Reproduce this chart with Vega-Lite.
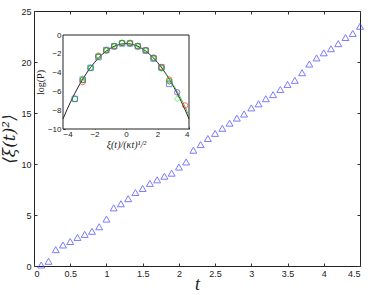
{
  "$schema": "https://vega.github.io/schema/vega-lite/v6.json",
  "width": 326,
  "height": 255,
  "autosize": {"type": "none"},
  "padding": {"left": 34, "top": 11, "right": 22, "bottom": 29},
  "background": "white",
  "config": {
    "view": {"stroke": "#222", "strokeWidth": 1},
    "axis": {
      "grid": false,
      "domain": false,
      "labelFont": "Liberation Sans",
      "labelFontSize": 9,
      "labelColor": "#222",
      "tickColor": "#333",
      "tickSize": -3,
      "labelPadding": 6,
      "titleColor": "#222"
    }
  },
  "datasets": {
    "main": [
      {"t": 0.1, "v": 0.1}, {"t": 0.2, "v": 0.46}, {"t": 0.3, "v": 1.6}, {"t": 0.4, "v": 2.06},
      {"t": 0.5, "v": 2.4}, {"t": 0.6, "v": 2.8}, {"t": 0.7, "v": 3.1}, {"t": 0.8, "v": 3.4},
      {"t": 0.9, "v": 3.85}, {"t": 1.0, "v": 4.6}, {"t": 1.1, "v": 5.7}, {"t": 1.2, "v": 6.1},
      {"t": 1.3, "v": 6.6}, {"t": 1.4, "v": 7.2}, {"t": 1.5, "v": 7.6}, {"t": 1.6, "v": 8.1},
      {"t": 1.7, "v": 8.45}, {"t": 1.8, "v": 8.8}, {"t": 1.9, "v": 9.1}, {"t": 2.0, "v": 9.7},
      {"t": 2.1, "v": 10.2}, {"t": 2.2, "v": 11.35}, {"t": 2.3, "v": 11.9}, {"t": 2.4, "v": 12.5},
      {"t": 2.5, "v": 13.0}, {"t": 2.6, "v": 13.5}, {"t": 2.7, "v": 14.0}, {"t": 2.8, "v": 14.5},
      {"t": 2.9, "v": 14.9}, {"t": 3.0, "v": 15.5}, {"t": 3.1, "v": 15.9}, {"t": 3.2, "v": 16.4},
      {"t": 3.3, "v": 16.8}, {"t": 3.4, "v": 17.3}, {"t": 3.5, "v": 17.8}, {"t": 3.6, "v": 18.2},
      {"t": 3.7, "v": 18.95}, {"t": 3.8, "v": 19.8}, {"t": 3.9, "v": 20.4}, {"t": 4.0, "v": 20.9},
      {"t": 4.1, "v": 21.3}, {"t": 4.2, "v": 21.8}, {"t": 4.3, "v": 22.4}, {"t": 4.4, "v": 22.8},
      {"t": 4.5, "v": 23.5}
    ],
    "box": [{"x0": -4, "x1": 4, "y0": -10, "y1": 0}],
    "curves": [
      {"c": "black", "x": -4, "y": -8.92}, {"c": "black", "x": -3.75, "y": -7.95}, {"c": "black", "x": -3.5, "y": -7.05},
      {"c": "black", "x": -3.25, "y": -6.2}, {"c": "black", "x": -3, "y": -5.42}, {"c": "black", "x": -2.75, "y": -4.7},
      {"c": "black", "x": -2.5, "y": -4.05}, {"c": "black", "x": -2.25, "y": -3.45}, {"c": "black", "x": -2, "y": -2.92},
      {"c": "black", "x": -1.75, "y": -2.45}, {"c": "black", "x": -1.5, "y": -2.05}, {"c": "black", "x": -1.25, "y": -1.7},
      {"c": "black", "x": -1, "y": -1.42}, {"c": "black", "x": -0.75, "y": -1.2}, {"c": "black", "x": -0.5, "y": -1.05},
      {"c": "black", "x": -0.25, "y": -0.95}, {"c": "black", "x": 0, "y": -0.92}, {"c": "black", "x": 0.25, "y": -0.95},
      {"c": "black", "x": 0.5, "y": -1.05}, {"c": "black", "x": 0.75, "y": -1.2}, {"c": "black", "x": 1, "y": -1.42},
      {"c": "black", "x": 1.25, "y": -1.7}, {"c": "black", "x": 1.5, "y": -2.05}, {"c": "black", "x": 1.75, "y": -2.45},
      {"c": "black", "x": 2, "y": -2.92}, {"c": "black", "x": 2.25, "y": -3.45}, {"c": "black", "x": 2.5, "y": -4.05},
      {"c": "black", "x": 2.75, "y": -4.7}, {"c": "black", "x": 3, "y": -5.42}, {"c": "black", "x": 3.25, "y": -6.2},
      {"c": "black", "x": 3.5, "y": -7.05}, {"c": "black", "x": 3.75, "y": -7.95}, {"c": "black", "x": 4, "y": -8.92},
      {"c": "green", "x": 2.5, "y": -4.0}, {"c": "green", "x": 2.75, "y": -4.62}, {"c": "green", "x": 3, "y": -5.3},
      {"c": "green", "x": 3.25, "y": -6.0}, {"c": "green", "x": 3.5, "y": -6.8}, {"c": "green", "x": 3.75, "y": -7.65},
      {"c": "green", "x": 4, "y": -8.6}
    ],
    "pts": [
      {"s": "b", "x": -3.25, "y": -6.8}, {"s": "b", "x": -2.75, "y": -4.75}, {"s": "b", "x": -2.25, "y": -3.5},
      {"s": "b", "x": -1.75, "y": -2.35}, {"s": "b", "x": -1.25, "y": -1.6}, {"s": "b", "x": -0.75, "y": -1.2},
      {"s": "b", "x": -0.25, "y": -0.9}, {"s": "b", "x": 0.25, "y": -0.9}, {"s": "b", "x": 0.75, "y": -1.2},
      {"s": "b", "x": 1.25, "y": -1.65}, {"s": "b", "x": 1.75, "y": -2.5}, {"s": "b", "x": 2.25, "y": -3.45},
      {"s": "b", "x": 2.75, "y": -5.2},
      {"s": "r", "x": -2.75, "y": -5.0}, {"s": "r", "x": -1.75, "y": -2.2}, {"s": "r", "x": -1.25, "y": -1.6},
      {"s": "r", "x": -0.75, "y": -1.2}, {"s": "r", "x": -0.25, "y": -0.85}, {"s": "r", "x": 0.25, "y": -0.85},
      {"s": "r", "x": 0.75, "y": -1.2}, {"s": "r", "x": 1.25, "y": -1.6}, {"s": "r", "x": 1.75, "y": -2.4},
      {"s": "r", "x": 2.25, "y": -3.4}, {"s": "r", "x": 2.75, "y": -4.75}, {"s": "r", "x": 3.75, "y": -7.5},
      {"s": "l", "x": -2.75, "y": -4.6}, {"s": "l", "x": -2.25, "y": -3.5}, {"s": "l", "x": -1.75, "y": -2.2},
      {"s": "l", "x": -1.25, "y": -1.6}, {"s": "l", "x": -0.75, "y": -1.1}, {"s": "l", "x": -0.25, "y": -0.8},
      {"s": "l", "x": 0.25, "y": -0.8}, {"s": "l", "x": 0.75, "y": -1.1}, {"s": "l", "x": 1.25, "y": -1.6},
      {"s": "l", "x": 1.75, "y": -2.5}, {"s": "l", "x": 2.25, "y": -3.6}, {"s": "l", "x": 2.75, "y": -5.0},
      {"s": "l", "x": 3.25, "y": -6.8},
      {"s": "g", "x": -3.25, "y": -6.8}, {"s": "g", "x": -2.75, "y": -4.8}, {"s": "g", "x": -2.25, "y": -3.5},
      {"s": "g", "x": -1.75, "y": -2.3}, {"s": "g", "x": -1.25, "y": -1.65}, {"s": "g", "x": -0.75, "y": -1.2},
      {"s": "g", "x": -0.25, "y": -0.85}, {"s": "g", "x": 0.25, "y": -0.9}, {"s": "g", "x": 0.75, "y": -1.2},
      {"s": "g", "x": 1.25, "y": -1.65}, {"s": "g", "x": 1.75, "y": -2.45}, {"s": "g", "x": 2.25, "y": -3.5},
      {"s": "g", "x": 2.75, "y": -4.9},
      {"s": "p", "x": 3.25, "y": -6.1}
    ]
  },
  "layer": [
    {
      "data": {"name": "main"},
      "layer": [
        {
          "mark": {"type": "point", "shape": "triangle-up", "filled": false, "color": "#4444ff", "size": 48, "strokeWidth": 1},
          "encoding": {
            "x": {"field": "t", "type": "quantitative",
              "scale": {"domain": [0, 4.5], "nice": false, "zero": false},
              "axis": {"orient": "bottom", "values": [0, 0.5, 1, 1.5, 2, 2.5, 3, 3.5, 4, 4.5], "format": "~g",
                "title": "t", "titleFont": "Liberation Serif", "titleFontStyle": "italic", "titleFontWeight": "normal", "titleFontSize": 18, "titlePadding": -3}},
            "y": {"field": "v", "type": "quantitative",
              "scale": {"domain": [0, 25], "nice": false, "zero": false},
              "axis": {"orient": "left", "values": [0, 5, 10, 15, 20, 25],
                "title": "⟨ξ(t)²⟩", "titleFont": "DejaVu Serif", "titleFontStyle": "italic", "titleFontWeight": "normal", "titleFontSize": 17, "titlePadding": 2}}
          }
        },
        {
          "mark": {"type": "point", "opacity": 0},
          "encoding": {
            "x": {"field": "t", "type": "quantitative",
              "scale": {"domain": [0, 4.5], "nice": false, "zero": false},
              "axis": {"orient": "top", "values": [0, 0.5, 1, 1.5, 2, 2.5, 3, 3.5, 4, 4.5], "labels": false, "title": null}},
            "y": {"field": "v", "type": "quantitative",
              "scale": {"domain": [0, 25], "nice": false, "zero": false},
              "axis": {"orient": "right", "values": [0, 5, 10, 15, 20, 25], "labels": false, "title": null}}
          }
        }
      ],
      "resolve": {"axis": {"x": "independent", "y": "independent"}}
    },
    {
      "layer": [
        {
          "data": {"name": "box"},
          "mark": {"type": "rect", "fill": "white", "stroke": "#222", "strokeWidth": 1},
          "encoding": {
            "x": {"field": "x0", "type": "quantitative",
              "scale": {"domain": [-4, 4], "range": [29, 155], "nice": false, "zero": false},
              "axis": {"orient": "bottom", "offset": -137, "values": [-4, -2, 0, 2, 4], "tickSize": -2, "labelPadding": 3, "labelFontSize": 8,
                "title": "ξ(t)/(κt)¹/²", "titleFont": "Liberation Serif", "titleFontStyle": "italic", "titleFontWeight": "normal", "titleFontSize": 10, "titlePadding": 1}},
            "x2": {"field": "x1"},
            "y": {"field": "y0", "type": "quantitative",
              "scale": {"domain": [-10, 0], "range": [118, 24], "nice": false, "zero": false},
              "axis": {"orient": "left", "offset": -29, "values": [-10, -8, -6, -4, -2, 0], "tickSize": -2, "labelPadding": 4, "labelFontSize": 8,
                "title": "log(P)", "titleFont": "Liberation Serif", "titleFontStyle": "normal", "titleFontWeight": "normal", "titleFontSize": 10, "titlePadding": 2}},
            "y2": {"field": "y1"}
          }
        },
        {
          "data": {"name": "curves"},
          "mark": {"type": "line", "strokeWidth": 1, "interpolate": "monotone"},
          "encoding": {
            "x": {"field": "x", "type": "quantitative"},
            "y": {"field": "y", "type": "quantitative"},
            "detail": {"field": "c"},
            "color": {"field": "c", "type": "nominal", "scale": {"domain": ["green", "black"], "range": ["#55bb55", "#222222"]}, "legend": null},
            "order": {"field": "c", "sort": "descending"}
          }
        },
        {
          "data": {"name": "pts"},
          "mark": {"type": "point", "filled": false, "size": 30, "strokeWidth": 1},
          "encoding": {
            "x": {"field": "x", "type": "quantitative"},
            "y": {"field": "y", "type": "quantitative"},
            "stroke": {"field": "s", "type": "nominal", "scale": {"domain": ["b", "r", "l", "g", "p"], "range": ["#4455ff", "#ff3333", "#33ee33", "#119911", "#6633cc"]}, "legend": null},
            "shape": {"field": "s", "type": "nominal", "scale": {"domain": ["b", "r", "l", "g", "p"], "range": ["square", "circle", "diamond", "circle", "circle"]}, "legend": null}
          }
        }
      ]
    }
  ],
  "resolve": {"scale": {"x": "independent", "y": "independent"}}
}
